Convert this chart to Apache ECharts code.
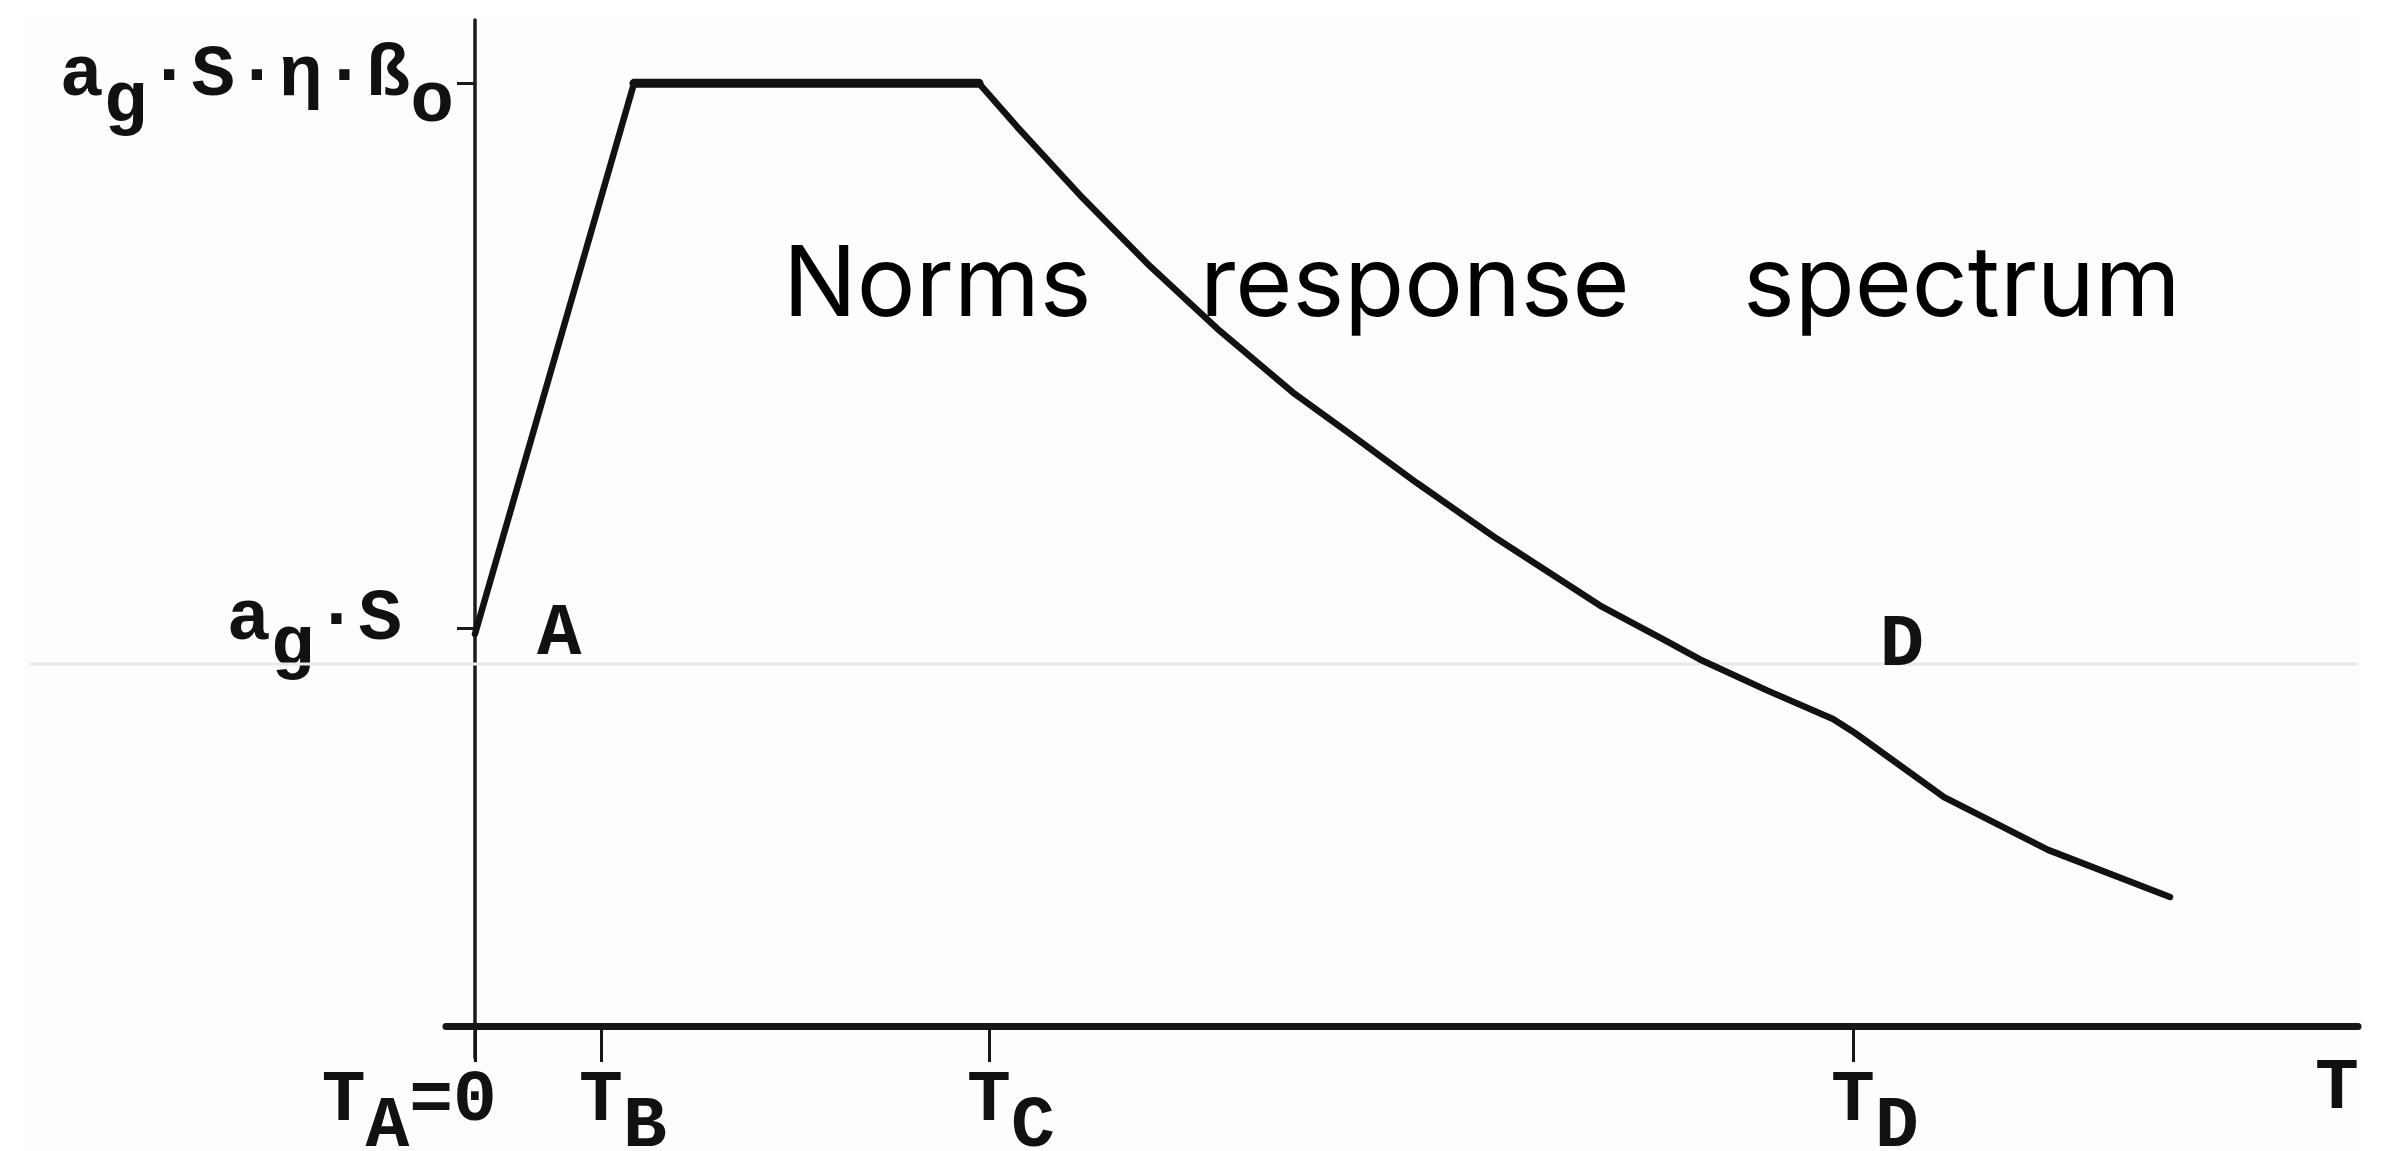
<!DOCTYPE html>
<html>
<head>
<meta charset="utf-8">
<script src="https://cdn.jsdelivr.net/npm/echarts@6/dist/echarts.min.js"></script>
<style>
html,body{margin:0;padding:0;background:#ffffff;}
#c{width:2383px;height:1151px;}
</style>
</head>
<body>
<div id="c"></div>
<script>
// ---------------- data ----------------
// period T (arbitrary units) and spectral ordinate Sa (arbitrary units)
const periodT = [0.000, 0.159, 0.504, 0.542, 0.608, 0.675, 0.742, 0.818, 0.875, 0.942, 1.022, 1.125, 1.192, 1.225, 1.292, 1.358, 1.380, 1.469, 1.573, 1.695];
const spectralSa = [1.04, 2.50, 2.50, 2.385, 2.195, 2.015, 1.850, 1.680, 1.570, 1.440, 1.292, 1.115, 1.020, 0.972, 0.890, 0.814, 0.777, 0.607, 0.467, 0.342];
// plateau = points 1..2
const plateauRange = [1, 2];
// labelled points: A at start, D at the corner period
const pointNames = ['A', 'D'];
const pointIndex = [0, 16];
// horizontal light reference line
const referenceLevel = 0.96;
// x-axis ticks and labels ("_" marks a subscript character)
const xTickValues = [0, 0.126, 0.514, 1.378];
const xLabelValues = [0, 0.126, 0.514, 1.378, 1.862];
const xLabelTexts = ['T_A=0', 'T_B', 'T_C', 'T_D', 'T'];
const xLabelAnchor = [3, 0, 0, 0, 0];
// y-axis ticks and labels
const yTickValues = [2.5, 1.056];
const yLabelTexts = ['a_g·S·η·ß_o', 'a_g·S'];
const yLabelTrail = [0, 52];
// axis extents
const xRange = [-0.029, 1.883];
const xRangeFull = [-0.445, 1.883];
const yRange = [-0.085, 2.668];
const titleWords = ['Norms', 'response', 'spectrum'];

// ---------------- chart ----------------
const MONO = '"Liberation Mono", "DejaVu Sans Mono", monospace';
const FS = 73;
const CW = FS * 0.6;
const INK = '#111111';

const rich = {
  m: {fontFamily: MONO, fontSize: FS, fontWeight: 'bold', color: INK, padding: [0, 0, 14, 0]},
  s: {fontFamily: MONO, fontSize: FS, fontWeight: 'bold', color: INK, padding: [38, 0, 0, 0]}
};
for (let k = 1; k <= 4; k++) {
  rich['p' + k] = {fontFamily: MONO, fontSize: FS, width: CW * k};
}
rich.py1 = {fontFamily: MONO, fontSize: FS, width: yLabelTrail[1]};

function toRich(label) {
  let out = '', buf = '', mode = 'm', n = 0;
  for (let i = 0; i < label.length; i++) {
    let ch = label[i], sub = false;
    if (ch === '_') { sub = true; ch = label[++i]; }
    const md = sub ? 's' : 'm';
    if (md !== mode && buf) { out += '{' + mode + '|' + buf + '}'; buf = ''; }
    mode = md; buf += ch; n++;
  }
  if (buf) out += '{' + mode + '|' + buf + '}';
  return {text: out, n: n};
}

function findIdx(arr, v) {
  return arr.findIndex(t => Math.abs(t - v) < 1e-6);
}

function xLabelFormatter(v) {
  const i = findIdx(xLabelValues, v);
  if (i < 0) return '';
  const r = toRich(xLabelTexts[i]);
  const k = xLabelAnchor[i];
  const left = k, right = r.n - k - 1;
  if (left > right) return r.text + '{p' + (left - right) + '| }';
  if (right > left) return '{p' + (right - left) + '| }' + r.text;
  return r.text;
}

const curveData = periodT.map((t, i) => [t, spectralSa[i]]);
const plateauData = curveData.slice(plateauRange[0], plateauRange[1] + 1);

const pointLabelStyle = [
  {position: 'right', distance: 62, offset: [0, 2]},
  {position: 'top', distance: 50, offset: [47, 0]}
];
const pointData = pointIndex.map((idx, k) => ({
  value: curveData[idx],
  label: Object.assign({
    show: true,
    formatter: pointNames[k],
    fontFamily: MONO, fontSize: 74, fontWeight: 'bold', color: INK, opacity: 1
  }, pointLabelStyle[k])
}));

const chart = echarts.init(document.getElementById('c'), null, {renderer: 'canvas', width: 2383, height: 1151});

const X_LABEL_MARGIN = -5;

const option = {
  backgroundColor: '#ffffff',
  animation: false,
  grid: [
    {left: 446, right: 25, top: 20, bottom: 93, outerBoundsMode: 'none', containLabel: false},
    {left: 30, right: 25, top: 20, bottom: 93, outerBoundsMode: 'none', containLabel: false}
  ],
  xAxis: [
    {
      type: 'value', gridIndex: 0, min: xRange[0], max: xRange[1],
      axisLine: {show: true, onZero: true, lineStyle: {color: '#161616', width: 7}},
      axisTick: {show: true, customValues: xTickValues, length: 36, lineStyle: {color: '#161616', width: 3}},
      axisLabel: {
        show: true, customValues: xLabelValues.slice(1), margin: X_LABEL_MARGIN, rich: rich,
        showMinLabel: true, showMaxLabel: true, hideOverlap: false,
        formatter: xLabelFormatter
      },
      splitLine: {show: false}
    },
    {
      // full-width companion axis: carries the origin label and the reference line
      type: 'value', gridIndex: 1, min: xRangeFull[0], max: xRangeFull[1],
      axisLine: {show: false, onZero: true},
      axisTick: {show: false},
      axisLabel: {
        show: true, customValues: xLabelValues.slice(0, 1), margin: X_LABEL_MARGIN, rich: rich,
        showMinLabel: true, showMaxLabel: true, hideOverlap: false,
        formatter: xLabelFormatter
      },
      splitLine: {show: false}
    }
  ],
  yAxis: [
    {
      type: 'value', gridIndex: 0, min: yRange[0], max: yRange[1],
      axisLine: {show: true, onZero: true, lineStyle: {color: '#1a1a1a', width: 3.5}},
      axisTick: {show: true, customValues: yTickValues, length: 18, lineStyle: {color: '#1a1a1a', width: 3}},
      axisLabel: {
        show: true, customValues: yTickValues, margin: -8, rich: rich,
        showMinLabel: true, showMaxLabel: true, hideOverlap: false,
        formatter: function (v) {
          const i = findIdx(yTickValues, v);
          if (i < 0) return '';
          const r = toRich(yLabelTexts[i]);
          return r.text + (yLabelTrail[i] > 0 ? '{py1| }' : '');
        }
      },
      splitLine: {show: false}
    },
    {type: 'value', gridIndex: 1, min: yRange[0], max: yRange[1], show: false}
  ],
  series: [
    {
      type: 'line', xAxisIndex: 1, yAxisIndex: 1, z: 1,
      data: [[xRangeFull[0], referenceLevel], [xRangeFull[1], referenceLevel]],
      symbol: 'none', silent: true,
      lineStyle: {color: '#e9e9e9', width: 3}
    },
    {
      type: 'line', xAxisIndex: 0, yAxisIndex: 0, z: 3,
      data: curveData, symbol: 'none', silent: true,
      lineStyle: {color: '#121212', width: 6.5, join: 'round', cap: 'round'}
    },
    {
      type: 'line', xAxisIndex: 0, yAxisIndex: 0, z: 3,
      data: plateauData, symbol: 'none', silent: true,
      lineStyle: {color: '#121212', width: 9, cap: 'round'}
    },
    {
      type: 'scatter', xAxisIndex: 0, yAxisIndex: 0, z: 4,
      data: pointData, symbolSize: 0, silent: true,
      itemStyle: {color: INK, opacity: 1}
    }
  ],
  graphic: [
    {type: 'rect', z: -10, silent: true, shape: {x: 23, y: 20, width: 2337, height: 1131}, style: {fill: '#fdfdfd'}},
    {type: 'text', x: 783, y: 287, z: 10, style: {text: titleWords[0], fontFamily: 'Inter', fontSize: 98, fill: '#000', align: 'left', verticalAlign: 'middle'}},
    {type: 'text', x: 1200, y: 287, z: 10, style: {text: titleWords[1], fontFamily: 'Inter', fontSize: 98, fill: '#000', align: 'left', verticalAlign: 'middle'}},
    {type: 'text', x: 1743, y: 287, z: 10, style: {text: titleWords[2], fontFamily: 'Inter', fontSize: 98, fill: '#000', align: 'left', verticalAlign: 'middle'}}
  ]
};
chart.setOption(option);
</script>
</body>
</html>
